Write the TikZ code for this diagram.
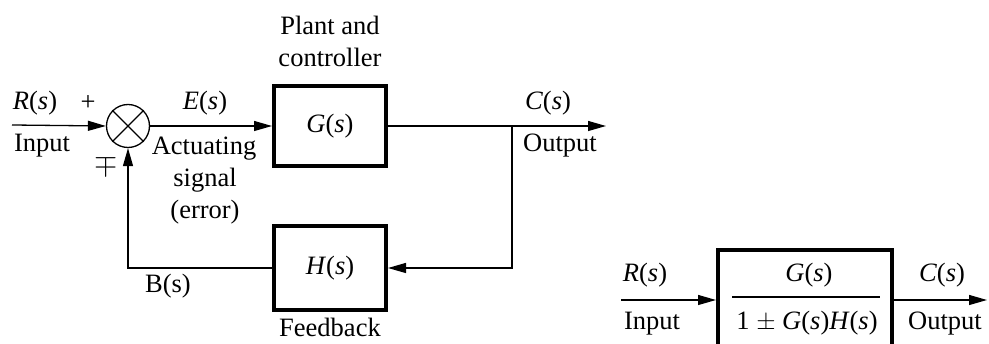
\documentclass[tikz,border=0pt]{standalone}
\usepackage{fontspec}
\setmainfont{Liberation Serif}
\usetikzlibrary{arrows.meta,positioning}
\newcommand\iv[1]{\textit{#1}}
\begin{document}
\begin{tikzpicture}[x=1pt,y=-1pt,
  font=\fontsize{26.5}{30}\selectfont,
  blockbox/.style={draw,line width=4pt,inner sep=0pt},
  sig/.style={line width=1.3pt},
  sigarrow/.style={line width=1.3pt,-{Triangle[length=18pt,width=10pt]}},
  lbl/.style={inner sep=0pt,anchor=base}]
\useasboundingbox (0,0) rectangle (989,344);
\clip (0,0) rectangle (989,344);
% first diagram
\coordinate (in1) at (12,125);
\node[draw,circle,line width=1.3pt,minimum size=43pt,inner sep=0pt] (sum) at (128,126) {};
\draw[line width=1.3pt] (sum.north west) -- (sum.south east) (sum.north east) -- (sum.south west);
\node[blockbox,minimum width=112pt,minimum height=80pt] (G) at (330,126) {\iv{G}(\iv{s})};
\node[blockbox,minimum width=112pt,minimum height=84pt] (H) at (330,268) {\iv{H}(\iv{s})};
\coordinate (out1) at (606,126);
\coordinate (br) at (512,126);
\coordinate (fbr) at (512,268);
\coordinate (fbl) at (128,268);
\draw[sigarrow] (in1) -- (sum.west);
\draw[sigarrow] (sum.east) -- (G.west);
\draw[sigarrow] (G.east) -- (out1);
\draw[sigarrow] (br) -- (fbr) -- (H.east);
\draw[sigarrow] (H.west) -- (fbl) -- (sum.south);
\node[lbl] (lR) at (35,110) {\iv{R}(\iv{s})};
\node[lbl] (lplus) at (88,111) {+};
\node[lbl] (lin) at (42,152) {Input};
\node[lbl] (lE) at (205,110) {\iv{E}(\iv{s})};
\node[lbl] (la1) at (204,155) {Actuating};
\node[lbl] (la2) at (205,187) {signal};
\node[lbl] (la3) at (205,219) {(error)};
\node[lbl] (lmp) at (106,173) {\scalebox{1.2}{$\mp$}};
\node[lbl] (lp1) at (330,35) {Plant and};
\node[lbl] (lp2) at (330,67) {controller};
\node[lbl] (lC) at (548,110) {\iv{C}(\iv{s})};
\node[lbl] (lout) at (560,152) {Output};
\node[lbl] (lB) at (168,293) {B(s)};
\node[lbl] (lfb) at (330,337) {Feedback};
% second diagram
\coordinate (in2) at (621,300);
\node[blockbox,minimum width=174pt,minimum height=140pt] (T) at (805,320) {};
\coordinate (out2) at (987,300);
\draw[sigarrow] (in2) -- (in2 -| T.west);
\draw[sigarrow] (out2 -| T.east) -- (out2);
\node[lbl] (tn) at (809,282) {\iv{G}(\iv{s})};
\node[lbl] (td) at (807,330) {1 $\pm$ \iv{G}(\iv{s})\iv{H}(\iv{s})};
\coordinate (fl) at (732,297);
\coordinate (fr) at (880,297);
\draw[line width=1.3pt] (fl) -- (fr);
\node[lbl] (lR2) at (645,282) {\iv{R}(\iv{s})};
\node[lbl] (lin2) at (652,330) {Input};
\node[lbl] (lC2) at (942,282) {\iv{C}(\iv{s})};
\node[lbl] (lout2) at (945,330) {Output};
\end{tikzpicture}
\end{document}
